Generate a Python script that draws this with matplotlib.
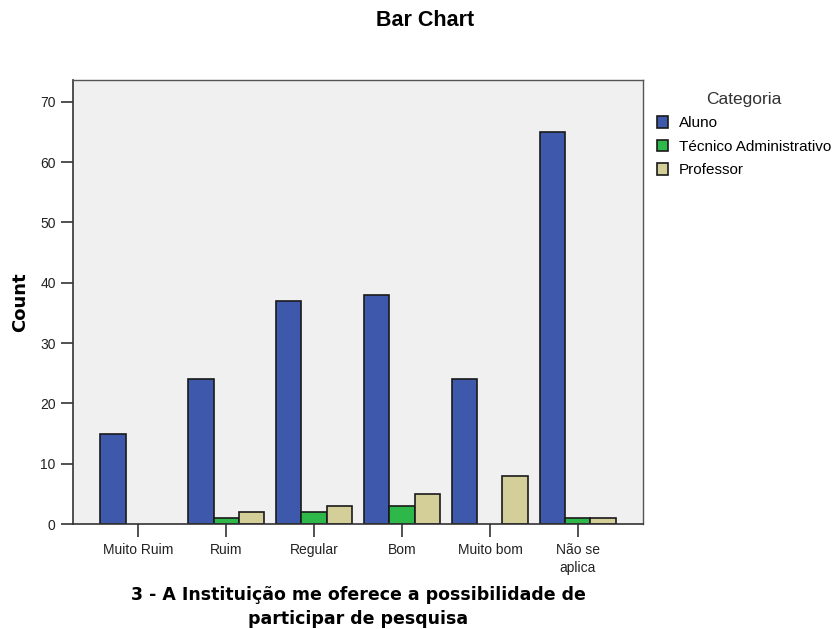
import matplotlib
matplotlib.use("Agg")
import matplotlib.pyplot as plt
import numpy as np

plt.rcParams['font.family'] = ['Liberation Sans', 'DejaVu Sans']

categories = ["Muito Ruim", "Ruim", "Regular", "Bom", "Muito bom", "Não se\naplica"]
series_names = ["Aluno", "Técnico Administrativo", "Professor"]
aluno = [15, 24, 37, 38, 24, 65]
tecnico = [0, 1, 2, 3, 0, 1]
professor = [0, 2, 3, 5, 8, 1]
colors = ["#3E58AC", "#2EB84A", "#D4CF98"]
yticks = [0, 10, 20, 30, 40, 50, 60, 70]

fig = plt.figure(figsize=(8.35, 6.29), dpi=100)
ax = fig.add_axes([73/835, 1-524/629, (643-73)/835, (524-80)/629])
ax.set_facecolor("#F0F0F0")

x = np.arange(len(categories))
w = 0.285
for i, (vals, name, c) in enumerate(zip([aluno, tecnico, professor], series_names, colors)):
    vals = np.asarray(vals, dtype=float)
    mask = vals > 0
    ax.bar(x[mask] + (i-1)*w, vals[mask], width=w, color=c, edgecolor="#1a1a1a",
           linewidth=1.2, label=name)

ax.set_xlim(-0.74, len(categories)-1+0.74)
ax.set_ylim(0, 73.6)
ax.set_yticks(yticks)
ax.set_xticks(x)
ax.set_xticklabels(categories, fontsize=10, color="#222222", linespacing=1.35)
ax.tick_params(axis='y', labelsize=10, length=9, width=1.2, colors="#333333", labelcolor="#222222")
ax.tick_params(axis='x', length=9, width=1.2, colors="#333333", labelcolor="#222222", pad=5)
for s in ['left', 'bottom']:
    ax.spines[s].set_color("#333333")
    ax.spines[s].set_linewidth(1.2)
for s in ['top', 'right']:
    ax.spines[s].set_color("#555555")
    ax.spines[s].set_linewidth(1.0)

ax.set_ylabel("Count", fontsize=13, fontweight='bold', labelpad=8, family=['DejaVu Sans'])
ax.set_xlabel("3 - A Instituição me oferece a possibilidade de\nparticipar de pesquisa", fontsize=12.5,
              fontweight='bold', labelpad=8, family=['DejaVu Sans'], linespacing=1.4)
fig.suptitle("Bar Chart", fontsize=15.5, fontweight='bold', x=425/835, y=1-21/629, va='center')

leg = ax.legend(loc='upper left', bbox_to_anchor=(1.013, 0.987), frameon=False, title="Categoria",
                fontsize=11, title_fontsize=12.5, handlelength=0.75, handleheight=0.75,
                handletextpad=0.7, labelspacing=0.62, borderaxespad=0)
leg.get_title().set_color("#333333")
for p in leg.get_patches():
    p.set_linewidth(1.2)

fig.savefig("out.png", dpi=100)
